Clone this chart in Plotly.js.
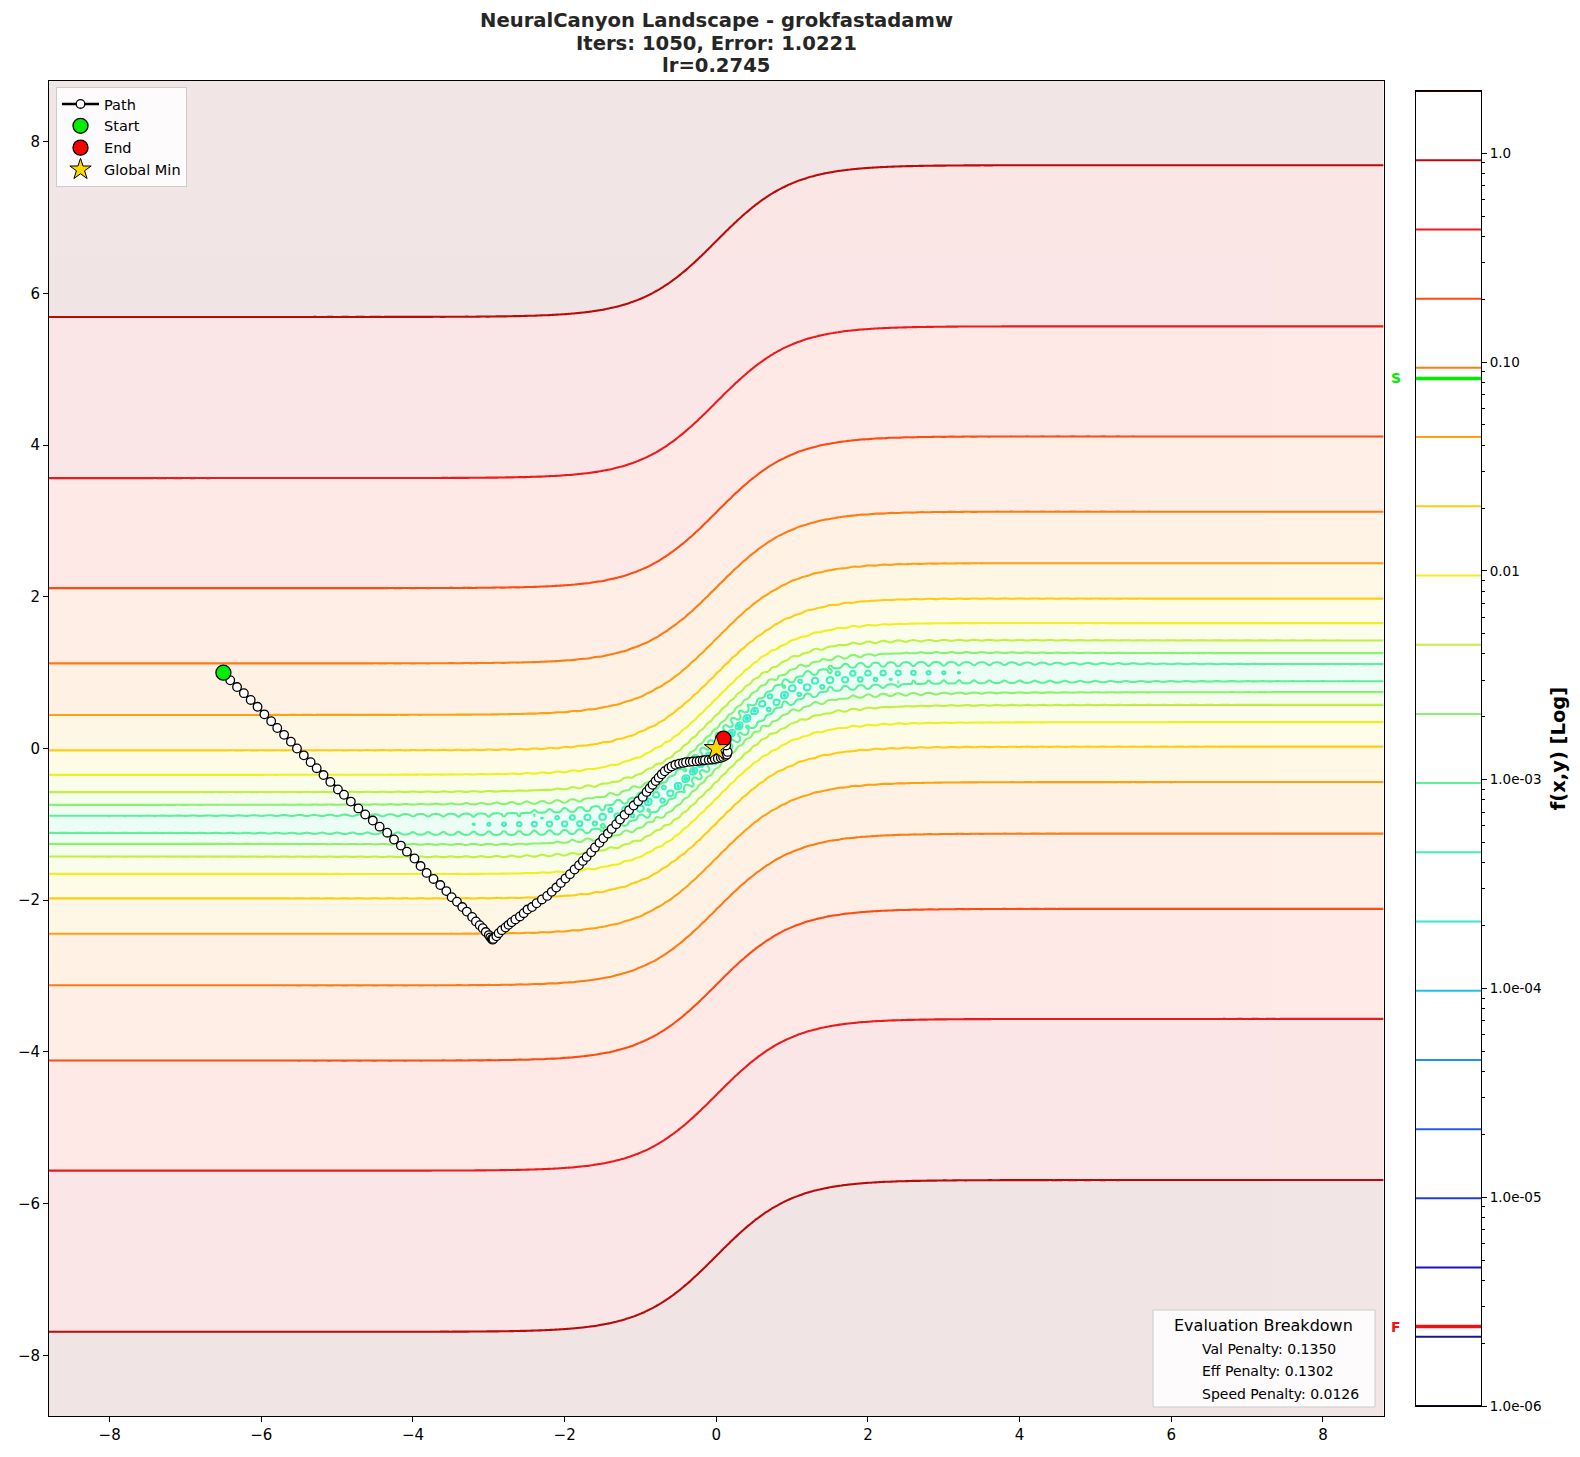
<!DOCTYPE html>
<html><head><meta charset="utf-8">
<script src="https://cdn.plot.ly/plotly-3.0.1.min.js"></script>
<style>html,body{margin:0;padding:0;background:#fff}#chart{width:1580px;height:1457px}</style>
</head><body><div id="chart"></div>
<script>
// ---------- values ----------
const titleLines = ['NeuralCanyon Landscape - grokfastadamw', 'Iters: 1050, Error: 1.0221', 'lr=0.2745'];
const pathX = [-6.50,-6.41,-6.32,-6.23,-6.14,-6.05,-5.96,-5.87,-5.79,-5.70,-5.61,-5.53,-5.44,-5.35,-5.27,-5.18,-5.09,-4.99,-4.91,-4.82,-4.72,-4.63,-4.53,-4.44,-4.34,-4.25,-4.16,-4.08,-3.98,-3.90,-3.82,-3.73,-3.64,-3.56,-3.49,-3.42,-3.35,-3.29,-3.22,-3.17,-3.12,-3.08,-3.04,-3.00,-2.98,-2.96,-2.95,-2.94,
  -2.90,-2.87,-2.83,-2.78,-2.74,-2.70,-2.65,-2.59,-2.54,-2.49,-2.43,-2.37,-2.30,-2.23,-2.17,-2.11,-2.05,-1.99,-1.93,-1.87,-1.81,-1.76,-1.71,-1.65,-1.60,-1.54,-1.49,-1.43,-1.38,-1.32,-1.27,-1.21,-1.15,-1.09,-1.03,-0.97,-0.92,-0.88,-0.84,-0.80,-0.76,-0.72,-0.68,-0.63,-0.59,-0.54,-0.49,-0.44,-0.40,-0.35,-0.31,-0.26,-0.22,-0.18,-0.15,-0.10,-0.06,-0.02,0.02,0.06,0.09,0.12,0.14,0.15,0.13,0.095];
const pathY = [1.00,0.90,0.81,0.73,0.64,0.55,0.45,0.36,0.27,0.18,0.09,0.00,-0.09,-0.18,-0.26,-0.35,-0.44,-0.54,-0.61,-0.70,-0.79,-0.87,-0.95,-1.03,-1.11,-1.20,-1.28,-1.36,-1.45,-1.55,-1.64,-1.72,-1.80,-1.88,-1.96,-2.02,-2.09,-2.15,-2.22,-2.28,-2.33,-2.37,-2.42,-2.46,-2.49,-2.51,-2.52,-2.51,
  -2.475,-2.435,-2.395,-2.36,-2.325,-2.29,-2.254,-2.214,-2.171,-2.123,-2.09,-2.04,-1.99,-1.943,-1.89,-1.833,-1.772,-1.714,-1.657,-1.595,-1.539,-1.482,-1.429,-1.367,-1.305,-1.244,-1.183,-1.121,-1.06,-0.998,-0.936,-0.875,-0.813,-0.752,-0.695,-0.638,-0.572,-0.525,-0.478,-0.43,-0.385,-0.34,-0.30,-0.262,-0.236,-0.215,-0.2,-0.19,-0.181,-0.176,-0.172,-0.168,-0.163,-0.158,-0.154,-0.15,-0.145,-0.14,-0.132,-0.122,-0.111,-0.097,-0.079,-0.045,0.04,0.13];
const startPoint = [-6.5, 1.0];
const endPoint = [0.095, 0.13];
const globalMin = [0.0, 0.0];
const startValue = 0.0835;
const endValue = 2.4e-6;
const penaltyLabels = ['Val Penalty', 'Eff Penalty', 'Speed Penalty'];
const penaltyValues = ['0.1350', '0.1302', '0.0126'];
const axisTickVals = [-8,-6,-4,-2,0,2,4,6,8];
const axisTickText = ['\u22128','\u22126','\u22124','\u22122','0','2','4','6','8'];
const cbTickVals = [1e-6,1e-5,1e-4,1e-3,1e-2,1e-1,1];
const cbTickText = ['1.0e-06','1.0e-05','1.0e-04','1.0e-03','0.01','0.10','1.0'];
const levelColors = ['#0b0b45','#1a1a8c','#1414c8','#1f3fd8','#2060e8','#2390ea','#22c0e8','#35e8d8','#40f0b8','#5cf09a',
                     '#8ef070','#c0f040','#eef020','#ffcc10','#ffa010','#ff7a10','#ff4a10','#ee1a1a','#bb0a0a','#3a0000'];
const nLevels = 20;
const zFloorLog = -6;

// ---------- landscape definition (NeuralCanyon) ----------
const canyonScale = 0.0207, canyonSlope = 1.0, canyonShift = 0.0;
const floorBase = 0.0007, floorDip = 0.8, floorWidth2 = 14;
const rippleAmp = 0.0007, rippleWidth2 = 14, rippleFreq = 10 * Math.PI;
function landscape(x, y) {
  const c = Math.tanh(canyonSlope * (x + canyonShift));
  const d = y - c;
  const fl = floorBase * (1 - floorDip * Math.exp(-x * x / floorWidth2));
  const rp = rippleAmp * Math.exp(-x * x / rippleWidth2) * (1 - Math.cos(rippleFreq * x) * Math.cos(rippleFreq * y)) / 2;
  return canyonScale * d * d + fl + rp;
}
const range = [-8.8, 8.8];
const gx = [];
for (let i = 0; i <= 800; i++) gx.push(range[0] + (range[1] - range[0]) * i / 800);
const gy = [];
for (let y = -8.8; y < -2.6 - 1e-9; y += 0.05) gy.push(+y.toFixed(4));
for (let y = -2.6; y < 2.6 - 1e-9; y += 0.015) gy.push(+y.toFixed(4));
for (let y = 2.6; y <= 8.8 + 1e-9; y += 0.05) gy.push(+y.toFixed(4));
let zMax = 0;
const gz = gy.map(y => gx.map(x => { const v = landscape(x, y); if (v > zMax) zMax = v; return Math.log10(Math.max(v, 1e-12)); }));
const logMax = Math.log10(zMax);
const step = (logMax - zFloorLog) / (nLevels - 1);
const levels = [];
for (let k = 0; k < nLevels; k++) levels.push(Math.pow(10, zFloorLog + k * step));
const cscale = levelColors.map((c, k) => [k / (nLevels - 1), c]);

const FONT = 'DejaVu Sans, Verdana, sans-serif';
const traces = [];
traces.push({type:'contour', x:gx, y:gy, z:gz, zmin:zFloorLog, zmax:logMax, colorscale:cscale, showscale:false,
  contours:{start:zFloorLog, end:logMax + 1e-9, size:step, coloring:'fill'}, line:{width:0}, opacity:0.1,
  hoverinfo:'skip', showlegend:false});
traces.push({type:'contour', x:gx, y:gy, z:gz, zmin:zFloorLog, zmax:logMax, colorscale:cscale, showscale:false,
  contours:{start:zFloorLog, end:logMax + 1e-9, size:step, coloring:'lines'}, line:{width:2.1, smoothing:0.8},
  hoverinfo:'skip', showlegend:false});
traces.push({type:'scatter', mode:'lines+markers', x:pathX, y:pathY, name:'Path',
  line:{color:'black', width:2.5}, marker:{size:8.6, color:'white', line:{color:'black', width:1.3}}});
traces.push({type:'scatter', mode:'markers', x:[startPoint[0]], y:[startPoint[1]], name:'Start',
  marker:{size:15, color:'#00ee00', line:{color:'black', width:1.3}}});
traces.push({type:'scatter', mode:'markers', x:[endPoint[0]], y:[endPoint[1]], name:'End',
  marker:{size:15, color:'#ff0000', line:{color:'black', width:1.3}}});
traces.push({type:'scatter', mode:'markers', x:[globalMin[0]], y:[globalMin[1]], name:'Global Min',
  marker:{symbol:'star', size:18, color:'#ffd700', line:{color:'black', width:1}}});
// colorbar level lines
levels.forEach((lv, k) => traces.push({type:'scatter', mode:'lines', x:[0, 1], y:[lv, lv], xaxis:'x2', yaxis:'y2',
  line:{color:levelColors[k], width:2}, hoverinfo:'skip', showlegend:false}));
traces.push({type:'scatter', mode:'lines', x:[0,1], y:[startValue, startValue], xaxis:'x2', yaxis:'y2',
  line:{color:'#00ee00', width:3.5}, hoverinfo:'skip', showlegend:false});
traces.push({type:'scatter', mode:'lines', x:[0,1], y:[endValue, endValue], xaxis:'x2', yaxis:'y2',
  line:{color:'#ee1111', width:3.5}, hoverinfo:'skip', showlegend:false});

const minorVals = [];
for (let e = -6; e <= 0; e++) for (let m = 2; m <= 9; m++) { const v = m * Math.pow(10, e); if (v < zMax) minorVals.push(v); }

const W = 1432, H = 1335, L = 49, T = 81;
const px = v => (v - L) / W, py = v => (T + H - v) / H;
const axisBase = {showline:true, mirror:true, linecolor:'black', linewidth:1, ticks:'outside', ticklen:5, tickcolor:'black',
  showgrid:false, zeroline:false, tickfont:{family:FONT, size:15, color:'black'}};
const titleY = [20.5, 43, 65];
const layout = {
  width:1580, height:1457, margin:{l:L, r:1580 - L - W, t:T, b:1457 - T - H}, paper_bgcolor:'white', plot_bgcolor:'white',
  showlegend:true,
  xaxis:Object.assign({}, axisBase, {domain:[0, px(1383.6)], range:range, tickmode:'array', tickvals:axisTickVals, ticktext:axisTickText}),
  yaxis:Object.assign({}, axisBase, {domain:[0, 1], range:range, tickmode:'array', tickvals:axisTickVals, ticktext:axisTickText}),
  xaxis2:{domain:[px(1416), 1], range:[0, 1], anchor:'y2', showticklabels:false, ticks:'', showline:true, mirror:true,
    linecolor:'black', linewidth:1, showgrid:false, zeroline:false},
  yaxis2:{domain:[py(1406), py(91)], type:'log', range:[zFloorLog, logMax], anchor:'x2', side:'right', showline:true, mirror:true,
    linecolor:'black', linewidth:1, showgrid:false, zeroline:false, ticks:'outside', ticklen:5, tickcolor:'black',
    tickmode:'array', tickvals:cbTickVals, ticktext:cbTickText, tickfont:{family:FONT, size:13.5, color:'black'},
    minor:{tickmode:'array', tickvals:minorVals, ticks:'outside', ticklen:2.5, tickcolor:'black', showgrid:false},
    title:{text:'f(x,y) [Log]', standoff:10, font:{family:FONT, size:19.5, weight:'bold', color:'black'}}},
  legend:{x:px(56), y:py(87), xanchor:'left', yanchor:'top', bgcolor:'rgba(255,255,255,0.85)', bordercolor:'#cccccc',
    borderwidth:1, font:{family:FONT, size:14.5, color:'black'}, tracegroupgap:0, itemwidth:37},
  shapes:[{type:'rect', xref:'paper', yref:'paper', x0:px(1153), x1:px(1375), y0:py(1407), y1:py(1310),
    fillcolor:'rgba(255,255,255,0.85)', line:{color:'#cccccc', width:1}, layer:'above'}],
  annotations:[
    ...titleLines.map((t, i) => ({text:'<b>' + t + '</b>', xref:'paper', yref:'paper', x:px(716), y:py(titleY[i]), xanchor:'center', yanchor:'middle',
      showarrow:false, font:{family:FONT, size:19.6, color:'#262626'}})),
    {text:'Evaluation Breakdown', xref:'paper', yref:'paper', x:px(1263), y:py(1325), xanchor:'center', yanchor:'middle', showarrow:false,
      font:{family:FONT, size:16, color:'black'}},
    ...penaltyLabels.map((lab, i) => ({text:lab + ': ' + penaltyValues[i], xref:'paper', yref:'paper', x:px(1200), y:py(1348.5 + 22.5 * i),
      xanchor:'left', yanchor:'middle', showarrow:false, font:{family:FONT, size:14, color:'black'}})),
    {text:'<b>S</b>', xref:'paper', yref:'y2', x:px(1396), y:Math.log10(startValue), xanchor:'center', yanchor:'middle', showarrow:false,
      font:{family:FONT, size:14, color:'#00ee00'}},
    {text:'<b>F</b>', xref:'paper', yref:'y2', x:px(1396), y:Math.log10(endValue), xanchor:'center', yanchor:'middle', showarrow:false,
      font:{family:FONT, size:14, color:'#ee1111'}}
  ]
};
Plotly.newPlot('chart', traces, layout, {displayModeBar:false, staticPlot:true});
</script></body></html>
